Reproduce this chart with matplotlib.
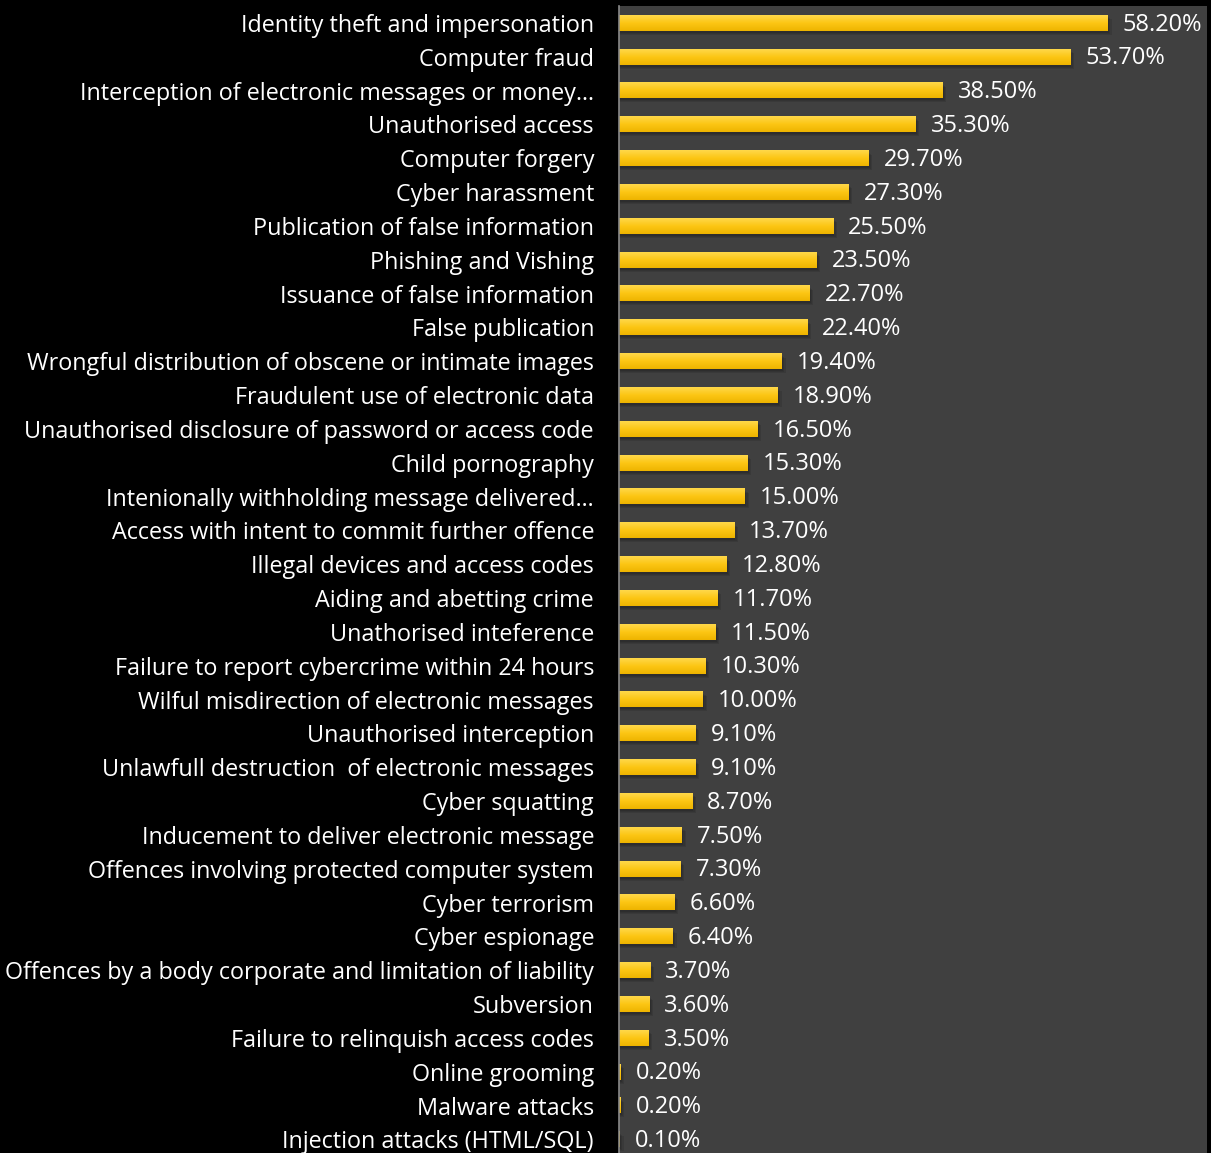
import numpy as np
import matplotlib.pyplot as plt
from matplotlib.colors import LinearSegmentedColormap

# offence categories, top to bottom
categories = [
    "Identity theft and impersonation",
    "Computer fraud",
    "Interception of electronic messages or money\u2026",
    "Unauthorised access",
    "Computer forgery",
    "Cyber harassment",
    "Publication of false information",
    "Phishing and Vishing",
    "Issuance of false information",
    "False publication",
    "Wrongful distribution of obscene or intimate images",
    "Fraudulent use of electronic data",
    "Unauthorised disclosure of password or access code",
    "Child pornography",
    "Intenionally withholding message delivered\u2026",
    "Access with intent to commit further offence",
    "Illegal devices and access codes",
    "Aiding and abetting crime",
    "Unathorised inteference",
    "Failure to report cybercrime within 24 hours",
    "Wilful misdirection of electronic messages",
    "Unauthorised interception",
    "Unlawfull destruction  of electronic messages",
    "Cyber squatting",
    "Inducement to deliver electronic message",
    "Offences involving protected computer system",
    "Cyber terrorism",
    "Cyber espionage",
    "Offences by a body corporate and limitation of liability",
    "Subversion",
    "Failure to relinquish access codes",
    "Online grooming",
    "Malware attacks",
    "Injection attacks (HTML/SQL)",
]

percent = [
    58.2, 53.7, 38.5, 35.3, 29.7, 27.3, 25.5, 23.5, 22.7, 22.4,
    19.4, 18.9, 16.5, 15.3, 15.0, 13.7, 12.8, 11.7, 11.5, 10.3,
    10.0, 9.1, 9.1, 8.7, 7.5, 7.3, 6.6, 6.4, 3.7, 3.6,
    3.5, 0.2, 0.2, 0.1,
]

plt.rcParams["font.family"] = ["Open Sans", "DejaVu Sans"]

fig = plt.figure(figsize=(12.11, 11.53), dpi=100, facecolor="black")
ax = fig.add_axes([619 / 1211, 0.0, 588 / 1211, 1 - 6 / 1153])
ax.set_facecolor("#404040")

gold = LinearSegmentedColormap.from_list("gold", ["#ffd84a", "#fcc614", "#eeb400"])
grad = np.linspace(0, 1, 64).reshape(-1, 1)

n = len(categories)
y = np.arange(n)
h = 0.46

for i, v in enumerate(percent):
    # soft shadow under the bar
    for k, a in enumerate([0.10, 0.10, 0.10]):
        ax.barh(i + 0.06 + 0.03 * k, v + 0.1 + 0.15 * k, height=h, left=0.05,
                color="black", alpha=a, linewidth=0, zorder=1)
    ax.imshow(grad, cmap=gold, aspect="auto", zorder=2,
              extent=[0, v, i + h / 2, i - h / 2])
    ax.text(v + 1.8, i + 0.05, f"{v:.2f}%", color="white", fontsize=17,
            va="center", ha="left", zorder=3)

ax.set_xlim(0, 70)
ax.set_ylim(n - 0.6, -0.5)

ax.set_yticks(y)
ax.set_yticklabels(categories, color="white", fontsize=16.8)
ax.tick_params(axis="y", length=0, pad=18)
ax.set_xticks([])

for side in ["top", "right", "bottom"]:
    ax.spines[side].set_visible(False)
ax.spines["left"].set_color("#8a8a8a")
ax.spines["left"].set_linewidth(1.2)

fig.savefig("out.png", dpi=100, facecolor="black")
